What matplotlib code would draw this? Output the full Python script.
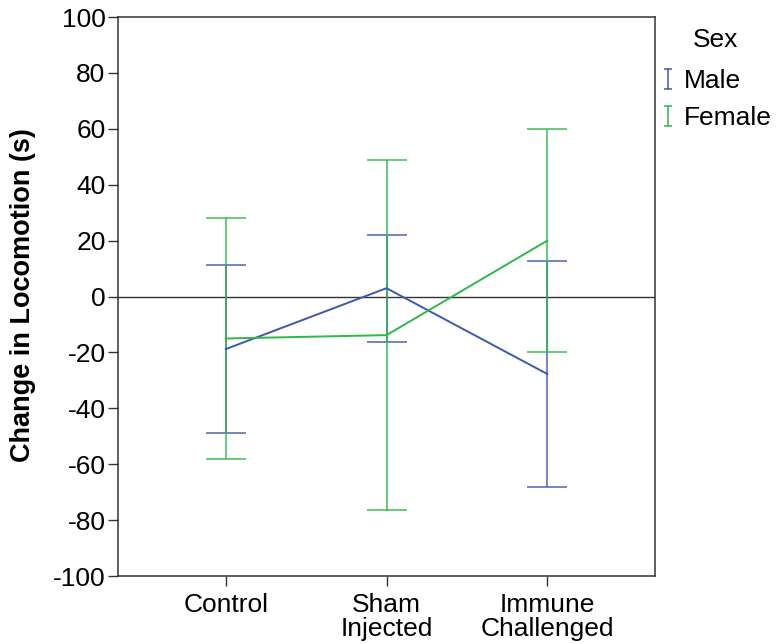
import matplotlib
matplotlib.use("Agg")
import matplotlib.pyplot as plt
from matplotlib.path import Path
from matplotlib.lines import Line2D

plt.rcParams['font.family'] = ['Liberation Sans', 'DejaVu Sans']
plt.rcParams['axes.unicode_minus'] = False

# Group means and error bar limits of change in locomotion (s)
groups = ["Control", "Sham\nInjected", "Immune\nChallenged"]
male_mean = [-18.8, 3.0, -27.7]
male_lower = [-48.9, -16.1, -68.2]
male_upper = [11.4, 22.1, 12.9]
female_mean = [-15.0, -13.8, 20.0]
female_lower = [-58.2, -76.4, -20.0]
female_upper = [28.2, 48.9, 60.0]
series_names = ["Male", "Female"]
series_colors = ["#3e58ac", "#2eb848"]

FS = 19

fig = plt.figure(figsize=(7.79, 6.44), dpi=100)
ax = fig.add_axes([0.1515, 0.1055, 0.6893, 0.868])

x = list(range(len(groups)))
series = [(male_mean, male_lower, male_upper), (female_mean, female_lower, female_upper)]

ax.axhline(0, color="#333333", lw=1.0, zorder=1)

for (mean, lo, hi), color in zip(series, series_colors):
    yerr = [[m - l for m, l in zip(mean, lo)], [h - m for m, h in zip(mean, hi)]]
    ax.errorbar(x, mean, yerr=yerr, fmt="none", ecolor=color, elinewidth=1.2,
                capsize=14.4, capthick=1.2, alpha=0.85, zorder=2)
    ax.plot(x, mean, color=color, lw=1.4, zorder=3)

ax.set_xlim(-0.67, 2.67)
ax.set_ylim(-100, 100)
ax.set_yticks(range(-100, 101, 20))
ax.set_xticks(x)
ax.set_xticklabels(groups, linespacing=1.0)
ax.tick_params(axis="both", labelsize=FS, length=7, width=1.0, color="#333333",
               direction="out")
ax.tick_params(axis="y", pad=2)
ax.tick_params(axis="x", pad=5)
for s in ax.spines.values():
    s.set_color("#333333")
    s.set_linewidth(1.1)

ax.set_ylabel("Change in Locomotion (s)", fontsize=19.5, fontweight="bold")
ax.yaxis.set_label_coords(-0.153, 0.503)

# I-shaped legend glyph like an error bar
ibar = Path([(-0.4, -1), (0.4, -1), (0, -1), (0, 1), (-0.4, 1), (0.4, 1)],
            [Path.MOVETO, Path.LINETO, Path.MOVETO, Path.LINETO, Path.MOVETO, Path.LINETO])
handles = [Line2D([], [], linestyle="none", marker=ibar, markersize=15,
                  markerfacecolor="none", markeredgecolor=c, markeredgewidth=1.1)
           for c in series_colors]
leg = ax.legend(handles, series_names, title="Sex", loc="upper left",
                bbox_to_anchor=(1.009, 0.98), frameon=False, fontsize=FS,
                title_fontsize=FS, handlelength=0.6, handletextpad=0.3,
                labelspacing=0.5, borderaxespad=0.0, borderpad=0.0)
leg._legend_box.sep = 12

fig.savefig("out.png", dpi=100, facecolor="white")
